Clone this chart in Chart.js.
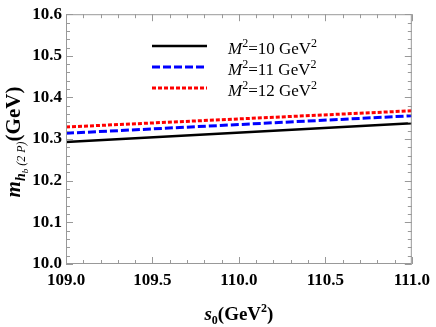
<!DOCTYPE html>
<html>
<head>
<meta charset="utf-8">
<script src="https://cdn.jsdelivr.net/npm/chart.js@4"></script>
<style>
  html, body { margin: 0; padding: 0; background: #fff; }
  #wrap { width: 436px; height: 327px; position: relative; }
</style>
</head>
<body>
<div id="wrap"><canvas id="chart"></canvas></div>
<script>
// s0 values (GeV^2) at the ends of the window
const s0Values = [109.0, 111.0];
// mass curves for each Borel parameter
const massM10 = [10.293, 10.338];
const massM11 = [10.314, 10.356];
const massM12 = [10.329, 10.368];
const seriesNames = ['10', '11', '12'];
const xTickLabels = [109.0, 109.5, 110.0, 110.5, 111.0];
const yTickLabels = [10.0, 10.1, 10.2, 10.3, 10.4, 10.5, 10.6];

const SERIF = '"Liberation Serif", "DejaVu Serif", serif';

function toPoints(ys) {
  return s0Values.map((x, i) => ({ x: x, y: ys[i] }));
}

// frame ticks on all four sides, pointing inward (Mathematica style)
const frameTicks = {
  id: 'frameTicks',
  afterDatasetsDraw(chart) {
    const { ctx, chartArea: a, scales } = chart;
    const xs = scales.x, ys = scales.y;
    ctx.save();
    ctx.strokeStyle = '#999';
    ctx.lineWidth = 1;
    ctx.strokeRect(a.left + 0.5, a.top + 0.5, a.right - a.left - 1, a.bottom - a.top - 1);
    ctx.beginPath();
    for (let i = 0; i <= 20; i++) {
      const v = 109 + i * 0.1;
      const px = Math.round(xs.getPixelForValue(v)) + 0.5;
      const len = (i % 5 === 0) ? 7 : 4;
      ctx.moveTo(px, a.bottom); ctx.lineTo(px, a.bottom - len);
      ctx.moveTo(px, a.top); ctx.lineTo(px, a.top + len);
    }
    for (let i = 0; i <= 30; i++) {
      const v = 10 + i * 0.02;
      const py = Math.round(ys.getPixelForValue(v)) + 0.5;
      const len = (i % 5 === 0) ? 7 : 4;
      ctx.moveTo(a.left, py); ctx.lineTo(a.left + len, py);
      ctx.moveTo(a.right, py); ctx.lineTo(a.right - len, py);
    }
    ctx.stroke();
    ctx.restore();
  }
};

// draws text runs: [text, font, dy]
function drawRuns(ctx, runs, x, y) {
  let cx = x;
  runs.forEach(r => {
    ctx.font = r[1];
    ctx.fillText(r[0], cx, y + (r[2] || 0));
    cx += ctx.measureText(r[0]).width;
  });
  return cx;
}
function runsWidth(ctx, runs) {
  let w = 0;
  runs.forEach(r => { ctx.font = r[1]; w += ctx.measureText(r[0]).width; });
  return w;
}

// axis titles and the legend box
const annotations = {
  id: 'annotations',
  afterDraw(chart) {
    const { ctx, chartArea: a } = chart;
    ctx.save();
    ctx.fillStyle = '#000';
    ctx.textBaseline = 'alphabetic';

    // x title: s0(GeV^2)
    const xRuns = [
      ['s', 'bold italic 19px ' + SERIF, 0],
      ['0', 'bold 12px ' + SERIF, 4],
      ['(GeV', 'bold 19px ' + SERIF, 0],
      ['2', 'bold 12px ' + SERIF, -8],
      [')', 'bold 19px ' + SERIF, 0]
    ];
    const xw = runsWidth(ctx, xRuns);
    drawRuns(ctx, xRuns, (a.left + a.right) / 2 - xw / 2, 320);

    // y title: m_{h_b (2P)}(GeV)
    const yRuns = [
      ['m', 'bold italic 21px ' + SERIF, 0],
      ['h', 'bold italic 14px ' + SERIF, 5],
      ['b', 'italic 9px ' + SERIF, 8],
      [' (2 P)', 'italic 12px ' + SERIF, 5],
      ['(GeV)', 'bold 21px ' + SERIF, 0]
    ];
    const yw = runsWidth(ctx, yRuns);
    ctx.translate(20, 142);
    ctx.rotate(-Math.PI / 2);
    drawRuns(ctx, yRuns, -yw / 2, 0);
    ctx.setTransform(1, 0, 0, 1, 0, 0);

    // legend
    const lx0 = 152, lx1 = 207, tx = 228;
    const rows = [46, 67, 88];
    chart.data.datasets.forEach((ds, i) => {
      const y = rows[i];
      ctx.save();
      ctx.strokeStyle = ds.borderColor;
      ctx.lineWidth = ds.borderWidth;
      ctx.setLineDash(ds.borderDash || []);
      ctx.beginPath();
      ctx.moveTo(lx0, y); ctx.lineTo(lx1, y);
      ctx.stroke();
      ctx.restore();
      drawRuns(ctx, [
        ['M', 'italic 17px ' + SERIF, 0],
        ['2', '12px ' + SERIF, -7],
        ['=' + seriesNames[i] + ' GeV', '17px ' + SERIF, 0],
        ['2', '12px ' + SERIF, -7]
      ], tx, y + 8);
    });
    ctx.restore();
  }
};

const datasets = [
  { data: toPoints(massM10), borderColor: '#000000', borderWidth: 2.5, borderDash: [] },
  { data: toPoints(massM11), borderColor: '#0000ff', borderWidth: 3, borderDash: [8, 3] },
  { data: toPoints(massM12), borderColor: '#ff0000', borderWidth: 3, borderDash: [4, 2] }
].map(d => Object.assign(d, { pointRadius: 0, fill: false, tension: 0 }));

new Chart(document.getElementById('chart'), {
  type: 'line',
  data: { datasets },
  options: {
    responsive: true,
    maintainAspectRatio: false,
    animation: false,
    layout: { padding: { top: 13, right: 20, left: 0, bottom: 0 } },
    plugins: { legend: { display: false }, tooltip: { enabled: false } },
    scales: {
      x: {
        type: 'linear',
        min: 109, max: 111,
        grid: { display: false, drawTicks: false },
        border: { display: false },
        afterFit(s) { s.height = 63; },
        afterBuildTicks(s) { s.ticks = xTickLabels.map(v => ({ value: v })); },
        ticks: {
          padding: 6,
          color: '#000',
          font: { family: SERIF, size: 17, weight: 'bold' },
          maxRotation: 0,
          callback: v => v.toFixed(1)
        }
      },
      y: {
        type: 'linear',
        min: 10.0, max: 10.6,
        grid: { display: false, drawTicks: false },
        border: { display: false },
        afterFit(s) { s.width = 66; },
        afterBuildTicks(s) { s.ticks = yTickLabels.map(v => ({ value: v })); },
        ticks: {
          padding: 4,
          color: '#000',
          font: { family: SERIF, size: 17, weight: 'bold' },
          callback: v => v.toFixed(1)
        }
      }
    }
  },
  plugins: [frameTicks, annotations]
});
</script>
</body>
</html>
